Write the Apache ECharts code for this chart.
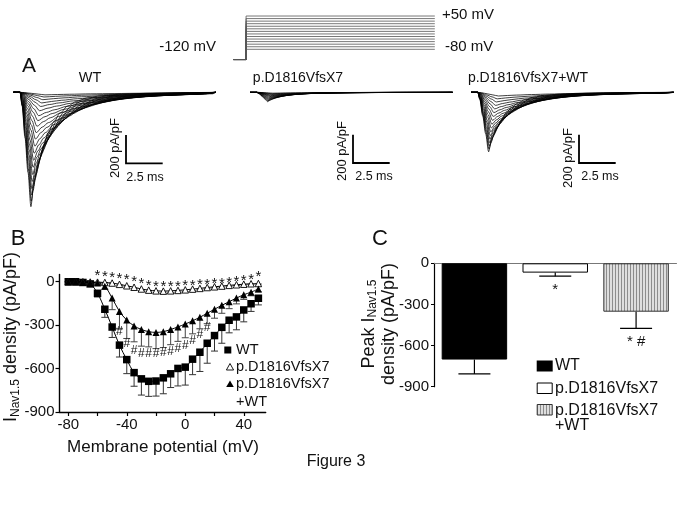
<!DOCTYPE html>
<html><head><meta charset="utf-8">
<script src="https://cdn.jsdelivr.net/npm/echarts@6/dist/echarts.min.js"></script>
<style>html,body{margin:0;padding:0;background:#fff}#c{width:683px;height:506px}</style>
</head><body><div id="c"></div>
<script>
const FONT = '"Liberation Sans", Arial, Helvetica, sans-serif';

// ---------- Panel B: I-V relationship ----------
const voltages = [-80,-75,-70,-65,-60,-55,-50,-45,-40,-35,-30,-25,-20,-15,-10,-5,0,5,10,15,20,25,30,35,40,45,50];
const wtMean  = [0,0,-5,-15,-80,-190,-313,-438,-538,-628,-671,-688,-686,-664,-636,-599,-590,-535,-487,-425,-372,-315,-266,-243,-195,-152,-114];
const wtSem   = [0,0,4,8,25,56,72,82,97,94,112,104,104,110,95,121,124,107,133,138,107,110,87,89,82,53,46];
const mutMean = [0,0,0,-2,-3,-5,-9,-18,-28,-38,-50,-58,-63,-65,-63,-60,-56,-51,-46,-40,-35,-30,-25,-21,-17,-14,-12];
const mutSem  = [0,0,0,1,2,3,4,6,8,10,12,13,14,14,13,12,12,11,10,9,8,7,6,5,5,4,4];
const hetMean = [0,0,-2,-5,-8,-32,-113,-205,-265,-305,-330,-345,-350,-345,-330,-312,-292,-270,-245,-218,-190,-163,-138,-113,-90,-72,-50];
const hetSem  = [0,0,2,4,6,20,80,117,127,110,115,105,112,110,105,100,95,90,80,72,62,55,48,40,32,25,20];
const starVoltages = [-60,-55,-50,-45,-40,-35,-30,-25,-20,-15,-10,-5,0,5,10,15,20,25,30,35,40,45,50];
const starLevels   = [65,58,53,48,39,30,16,0,-7,-7,-5,-5,-2,0,3,7,12,16,23,30,35,40,58];
const hashVoltages = [-45,-40,-35,-30,-25,-20,-15,-10,-5,0,5,10,15];
const hashLevels   = [-345,-425,-475,-495,-500,-495,-490,-480,-462,-440,-405,-365,-320];
const ivXTicks  = [-80,-60,-40,-20,0,20,40];
const ivXLabels = [-80,-40,0,40];
const ivYTicks  = [-900,-600,-300,0];

// ---------- Panel C: peak current density ----------
const groups   = ['WT','p.D1816VfsX7','p.D1816VfsX7+WT'];
const peakMean = [-702,-68,-353];
const peakSem  = [105,26,121];
const peakMarks = ['','*','* #'];

// ---------- Panel A: protocol and current traces ----------
const protocolSteps = [-80,-70,-60,-50,-40,-30,-20,-10,0,10,20,30,40,50];
const holdingPotential = -120;
const protocolTimes = [0, 0.87, 13.73];
const shapeRiseDt  = [0, 0.14, 0.34, 0.54, 0.74];
const shapeRiseV   = [0, -0.12, -0.4, -0.7, -1];
const shapeDecayDt = [0, 0.15, 0.3, 0.55, 0.85, 1.2, 1.55, 2.0, 2.5, 3.1, 3.8, 4.8, 6.3, 8.3, 10.8];
const shapeDecayV  = [-1, -0.86, -0.75, -0.6, -0.47, -0.35, -0.26, -0.18, -0.12, -0.08, -0.05, -0.03, -0.015, -0.007, -0.002];
const wtTracePeaks  = [808,770,725,680,630,580,530,480,430,380,330,285,240,200,165,130,100,75,52,33,18];
const mutTracePeaks = [66,60,54,48,42,36,30,25,20,15,10,6];
const hetTracePeaks = [420,400,378,355,330,305,280,252,225,198,170,143,117,92,68,46,26];
const traceRiseStretch  = [1.0,1.03,1.06,1.09,1.12,1.16,1.2,1.25,1.3,1.36,1.42,1.49,1.56,1.64,1.72,1.8,1.9,2.0,2.1,2.2,2.3];
const traceDecayStretch = [1.0,1.12,1.25,1.38,1.52,1.67,1.83,2.0,2.18,2.37,2.57,2.78,3.0,3.25,3.5,3.8,4.1,4.45,4.8,5.2,5.6];
const traceOnset = 0.46, traceEnd = 13.8;
const scaleBarMs = 2.5, scaleBarPApF = 200;

// ---------- layout (pixels) ----------
const traceGrids = [{left:13.3},{left:250},{left:471}];
const scaleCorners = [[126,163.3],[353,163],[579,163]];

const hatch = document.createElement('canvas'); hatch.width = 3; hatch.height = 4;
const hc = hatch.getContext('2d');
hc.fillStyle = '#dedede'; hc.fillRect(0,0,3,4);
hc.fillStyle = '#8c8c8c'; hc.fillRect(0,0,1,4);
const hatchFill = {image: hatch, repeat: 'repeat'};

function buildTrace(peak, i) {
  const rs = traceRiseStretch[i], ds = traceDecayStretch[i];
  const pts = [[0,0],[traceOnset,0]];
  for (let k = 1; k < shapeRiseDt.length; k++) pts.push([traceOnset + shapeRiseDt[k]*rs, shapeRiseV[k]*peak]);
  const tp = traceOnset + shapeRiseDt[shapeRiseDt.length-1]*rs;
  for (let k = 1; k < shapeDecayDt.length; k++) {
    const t = tp + shapeDecayDt[k]*ds;
    if (t >= traceEnd) break;
    pts.push([t, shapeDecayV[k]*peak]);
  }
  pts.push([traceEnd, 0]);
  return pts;
}

const grids = [], xAxes = [], yAxes = [], series = [];
traceGrids.forEach((g, i) => {
  grids.push({left: g.left, top: 89.5, width: 202.6, height: 130.2});
  xAxes.push({gridIndex: i, type: 'value', min: 0, max: traceEnd, show: false});
  yAxes.push({gridIndex: i, type: 'value', min: -900, max: 20, show: false});
});
// protocol grid 3
grids.push({left: 233.3, top: 10.9, width: 201.5, height: 51.2});
xAxes.push({gridIndex: 3, type: 'value', min: 0, max: 13.73, show: false});
yAxes.push({gridIndex: 3, type: 'value', min: -130, max: 70, show: false});
// IV grid 4
grids.push({left: 59.5, top: 274.5, width: 206.2, height: 137.5});
xAxes.push({gridIndex: 4, type: 'value', min: -86, max: 55,
  axisLine: {onZero: false, lineStyle: {color: '#000', width: 1.4}},
  axisTick: {customValues: ivXTicks, length: 4, lineStyle: {color: '#000', width: 1.2}},
  axisLabel: {customValues: ivXLabels, color: '#111', fontSize: 15, fontFamily: FONT, margin: 5},
  splitLine: {show: false}});
yAxes.push({gridIndex: 4, type: 'value', min: -900, max: 50,
  axisLine: {show: true, onZero: false, lineStyle: {color: '#000', width: 1.4}},
  axisTick: {show: true, customValues: ivYTicks, length: 4, lineStyle: {color: '#000', width: 1.2}},
  axisLabel: {customValues: ivYTicks, color: '#111', fontSize: 15, fontFamily: FONT, margin: 5},
  splitLine: {show: false}});
// bar grid 5
grids.push({left: 434, top: 263.3, width: 242.5, height: 123.4});
xAxes.push({gridIndex: 5, type: 'category', data: groups,
  axisLine: {lineStyle: {color: '#777', width: 1}}, axisTick: {show: false}, axisLabel: {show: false}});
yAxes.push({gridIndex: 5, type: 'value', min: -900, max: 0, interval: 300,
  axisLine: {show: true, lineStyle: {color: '#000', width: 1.2}},
  axisTick: {show: true, length: 3, lineStyle: {color: '#000'}},
  axisLabel: {color: '#111', fontSize: 15, fontFamily: FONT, margin: 5},
  splitLine: {show: false}});

// traces
[wtTracePeaks, mutTracePeaks, hetTracePeaks].forEach((peaks, p) => {
  peaks.forEach((pk, i) => {
    series.push({type: 'line', xAxisIndex: p, yAxisIndex: p, data: buildTrace(pk, i),
      showSymbol: false, smooth: 0.3, smoothMonotone: 'x', silent: true, clip: false,
      lineStyle: {color: '#000', width: 0.75}});
  });
  series.push({type: 'custom', xAxisIndex: p, yAxisIndex: p, data: [[0,0]], silent: true,
    renderItem: (params, api) => {
      const s = api.size([scaleBarMs, scaleBarPApF]);
      const c = scaleCorners[p];
      return {type: 'polyline', shape: {points: [[c[0], c[1]-s[1]], [c[0], c[1]], [c[0]+s[0], c[1]]]},
        style: {stroke: '#000', lineWidth: 1.8, fill: null}};
    }});
});
// protocol
protocolSteps.forEach(v => {
  series.push({type: 'line', xAxisIndex: 3, yAxisIndex: 3, showSymbol: false, silent: true,
    data: [[protocolTimes[0], holdingPotential], [protocolTimes[1], holdingPotential], [protocolTimes[1], v], [protocolTimes[2], v]],
    lineStyle: {color: '#555', width: 0.8}});
});

// IV error bars
function errSeries(mean, sem, color) {
  return {type: 'custom', xAxisIndex: 4, yAxisIndex: 4, z: 1, silent: true,
    data: voltages.map((v, i) => [v, mean[i], sem[i]]),
    renderItem: (params, api) => {
      const a = api.coord([api.value(0), api.value(1)]);
      const b = api.coord([api.value(0), api.value(1) - api.value(2)]);
      return {type: 'group', children: [
        {type: 'line', shape: {x1: a[0], y1: a[1], x2: b[0], y2: b[1]}, style: {stroke: color, lineWidth: 1}},
        {type: 'line', shape: {x1: b[0]-3.5, y1: b[1], x2: b[0]+3.5, y2: b[1]}, style: {stroke: color, lineWidth: 1}}
      ]};
    }};
}
series.push(errSeries(wtMean, wtSem, '#333'));
series.push(errSeries(hetMean, hetSem, '#444'));
series.push(errSeries(mutMean, mutSem, '#555'));
series.push({name: 'WT', type: 'line', xAxisIndex: 4, yAxisIndex: 4, z: 3, data: voltages.map((v,i)=>[v, wtMean[i]]),
  smooth: 0.35, symbol: 'rect', symbolSize: 7.5, showAllSymbol: true, itemStyle: {color: '#000'},
  lineStyle: {color: '#000', width: 1}});
series.push({name: 'p.D1816VfsX7', type: 'line', xAxisIndex: 4, yAxisIndex: 4, z: 3, data: voltages.map((v,i)=>[v, mutMean[i]]),
  smooth: 0.35, symbol: 'triangle', symbolSize: 6.5, showAllSymbol: true,
  itemStyle: {color: '#fff', borderColor: '#000', borderWidth: 0.9}, lineStyle: {color: '#000', width: 1}});
series.push({name: 'p.D1816VfsX7+WT', type: 'line', xAxisIndex: 4, yAxisIndex: 4, z: 3, data: voltages.map((v,i)=>[v, hetMean[i]]),
  smooth: 0.35, symbol: 'triangle', symbolSize: 7, showAllSymbol: true, itemStyle: {color: '#000'},
  lineStyle: {color: '#000', width: 1}});
function markSeries(xs, ys, glyph, size, dy) {
  return {type: 'custom', xAxisIndex: 4, yAxisIndex: 4, z: 4, silent: true,
    data: xs.map((v, i) => [v, ys[i]]),
    renderItem: (params, api) => {
      const a = api.coord([api.value(0), api.value(1)]);
      return {type: 'text', x: a[0], y: a[1] + dy,
        style: {text: glyph, fill: '#111', font: size + 'px ' + FONT,
          textAlign: 'center', textVerticalAlign: 'middle', align: 'center', verticalAlign: 'middle'}};
    }};
}
series.push(markSeries(starVoltages, starLevels, '*', 15, 4));
series.push(markSeries(hashVoltages, hashLevels, '#', 12, 0));

// bars
series.push({type: 'bar', xAxisIndex: 5, yAxisIndex: 5, barCategoryGap: '19%', silent: true,
  data: [
    {value: peakMean[0], itemStyle: {color: '#000', borderColor: '#000', borderWidth: 1}},
    {value: peakMean[1], itemStyle: {color: '#fff', borderColor: '#000', borderWidth: 1}},
    {value: peakMean[2], itemStyle: {color: hatchFill, borderColor: '#333', borderWidth: 1}}
  ]});
series.push({type: 'custom', xAxisIndex: 5, yAxisIndex: 5, z: 3, silent: true,
  data: groups.map((g, i) => [i, peakMean[i], peakSem[i]]),
  renderItem: (params, api) => {
    const a = api.coord([api.value(0), api.value(1)]);
    const b = api.coord([api.value(0), api.value(1) - api.value(2)]);
    return {type: 'group', children: [
      {type: 'line', shape: {x1: a[0], y1: a[1], x2: b[0], y2: b[1]}, style: {stroke: '#000', lineWidth: 1.2}},
      {type: 'line', shape: {x1: b[0]-16, y1: b[1], x2: b[0]+16, y2: b[1]}, style: {stroke: '#000', lineWidth: 1.2}},
      {type: 'text', x: b[0], y: b[1] + 6, style: {text: peakMarks[params.dataIndex], fill: '#111', font: '15px ' + FONT,
        textAlign: 'center', textVerticalAlign: 'top', align: 'center', verticalAlign: 'top'}}
    ]};
  }});

// text / legend graphics
function T(text, x, y, size, align, extra) {
  return Object.assign({type: 'text', x: x, y: y, silent: true,
    style: {text: text, fill: '#111', font: size + 'px ' + FONT,
      textAlign: align || 'center', textVerticalAlign: 'middle', align: align || 'center', verticalAlign: 'middle'}}, extra || {});
}
const graphics = [
  T('A', 29, 66, 21), T('B', 18, 239, 22), T('C', 380, 239, 22),
  T('WT', 90, 78, 14.5), T('p.D1816VfsX7', 298, 78, 14), T('p.D1816VfsX7+WT', 528, 78, 14),
  T('-120 mV', 216, 47, 15, 'right'), T('+50 mV', 442, 15, 15, 'left'), T('-80 mV', 445, 47, 15, 'left'),
  T('200 pA/pF', 115, 148, 13, 'center', {rotation: Math.PI/2}),
  T('200 pA/pF', 342, 151, 13, 'center', {rotation: Math.PI/2}),
  T('200 pA/pF', 568, 158, 13, 'center', {rotation: Math.PI/2}),
  T('2.5 ms', 145, 178, 12.5), T('2.5 ms', 374, 177, 12.5), T('2.5 ms', 600, 177, 12.5),
  T('Membrane potential (mV)', 163, 447, 17),
  {type: 'text', x: 11, y: 337, rotation: Math.PI/2, silent: true,
    style: {text: '{a|I}{b|Nav1.5}{a| density (pA/pF)}',
      rich: {a: {fontSize: 18, fontFamily: FONT, fill: '#111', lineHeight: 22},
             b: {fontSize: 12, fontFamily: FONT, fill: '#111', verticalAlign: 'bottom', lineHeight: 12}},
      textAlign: 'center', textVerticalAlign: 'middle', align: 'center', verticalAlign: 'middle'}},
  {type: 'text', x: 379, y: 324, rotation: Math.PI/2, silent: true,
    style: {text: '{a|Peak I}{b|Nav1.5}\n{a|density (pA/pF)}',
      rich: {a: {fontSize: 18, fontFamily: FONT, fill: '#111', lineHeight: 20, align: 'center'},
             b: {fontSize: 12, fontFamily: FONT, fill: '#111', verticalAlign: 'bottom', lineHeight: 11}},
      textAlign: 'center', textVerticalAlign: 'middle', align: 'center', verticalAlign: 'middle'}},
  // Panel B legend
  {type: 'rect', shape: {x: 224.3, y: 346.5, width: 7, height: 7}, style: {fill: '#000'}, silent: true},
  T('WT', 236, 350, 14.5, 'left'),
  {type: 'polygon', shape: {points: [[230,363.5],[233.6,370],[226.4,370]]}, style: {fill: '#fff', stroke: '#000', lineWidth: 0.9}, silent: true},
  T('p.D1816VfsX7', 236, 367, 14.5, 'left'),
  {type: 'polygon', shape: {points: [[230,380.5],[233.8,387],[226.2,387]]}, style: {fill: '#000'}, silent: true},
  T('p.D1816VfsX7', 236, 384, 14.5, 'left'),
  T('+WT', 236, 401.5, 14.5, 'left'),
  // Panel C legend
  {type: 'rect', shape: {x: 536.7, y: 360.5, width: 16, height: 11}, style: {fill: '#000'}, silent: true},
  T('WT', 555, 366, 16, 'left'),
  {type: 'rect', shape: {x: 537.2, y: 383, width: 15, height: 10.5}, style: {fill: '#fff', stroke: '#000', lineWidth: 1}, silent: true},
  T('p.D1816VfsX7', 555, 388.5, 16, 'left'),
  {type: 'rect', shape: {x: 537.2, y: 404.5, width: 15, height: 10.5}, style: {fill: hatchFill, stroke: '#333', lineWidth: 1}, silent: true},
  T('p.D1816VfsX7', 555, 410.5, 16, 'left'),
  T('+WT', 555, 426, 16, 'left'),
  T('Figure 3', 336, 462, 16)
];

const chart = echarts.init(document.getElementById('c'), null, {renderer: 'canvas'});
chart.setOption({
  animation: false,
  backgroundColor: '#fff',
  grid: grids, xAxis: xAxes, yAxis: yAxes, series: series,
  graphic: {elements: graphics}
});
</script>
</body></html>
